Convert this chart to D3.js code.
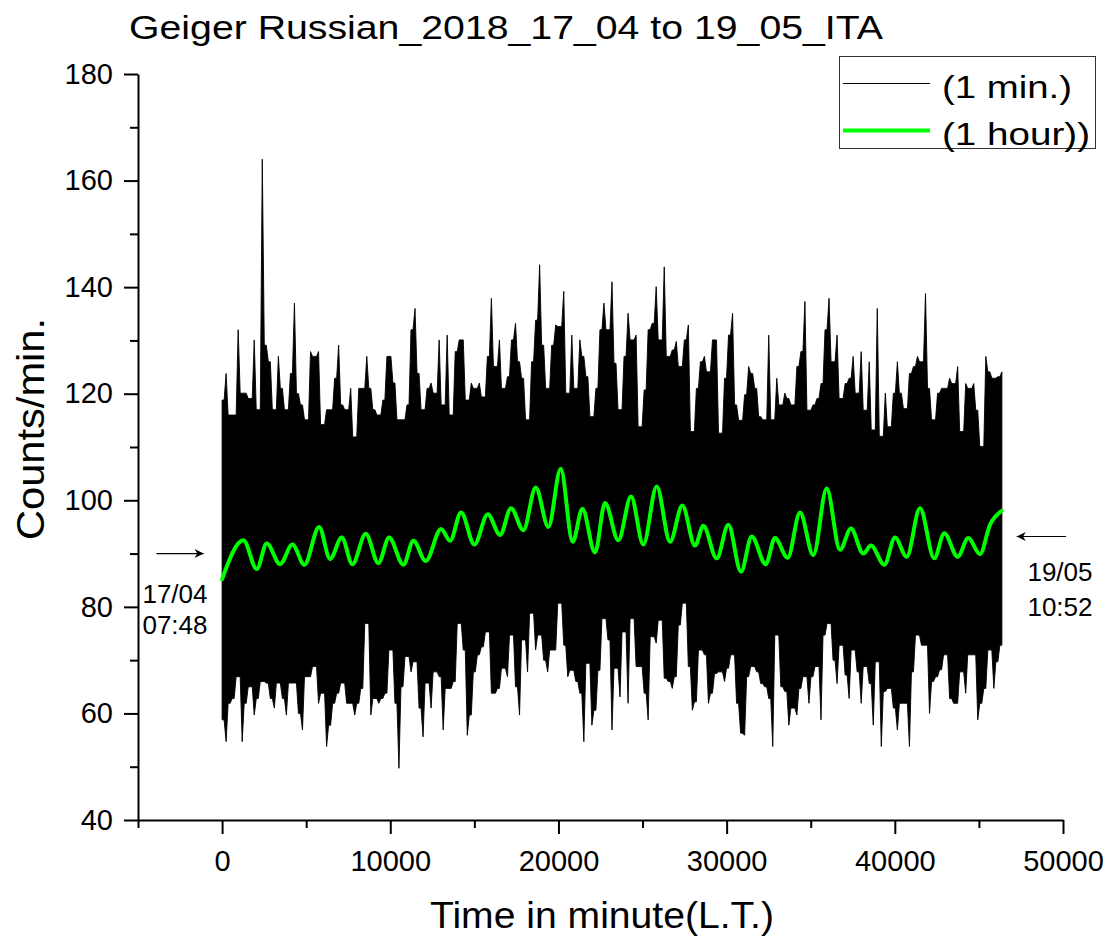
<!DOCTYPE html>
<html>
<head>
<meta charset="utf-8">
<script src="https://cdn.jsdelivr.net/npm/d3@7"></script>
<style>
  html, body { margin: 0; padding: 0; background: #fff; }
  svg { display: block; font-family: "Liberation Sans", Arial, sans-serif; }
</style>
</head>
<body>
<svg id="chart" width="1111" height="937"></svg>
<script>
// ---------- data ----------
const chartTitle = "Geiger Russian_2018_17_04 to 19_05_ITA";
const xAxisTitle = "Time in minute(L.T.)";
const yAxisTitle = "Counts/min.";
const seriesNames = ["(1 min.)", "(1 hour))"];
const xMajorTicks = [0, 10000, 20000, 30000, 40000, 50000];
const xMinorTicks = [-5000, 5000, 15000, 25000, 35000, 45000];
const yMajorTicks = [40, 60, 80, 100, 120, 140, 160, 180];
const yMinorTicks = [50, 70, 90, 110, 130, 150, 170];

// 1-minute counts, summarised per bin of binMinutes: highest and lowest reading in each bin
const binMinutes = 239;
const minuteHigh = [
  118.8, 123.8, 116.0, 116.0, 132.0, 120.1, 120.1, 119.1, 130.1, 117.0,
  164.0, 129.1, 126.0, 117.0, 127.0, 121.0, 117.0, 123.8, 137.0, 120.0,
  117.9, 115.1, 127.9, 127.0, 127.9, 114.2, 117.0, 117.0, 122.9, 129.1,
  117.9, 117.0, 121.0, 111.9, 121.0, 121.0, 127.0, 121.0, 117.0, 116.0,
  118.8, 127.0, 127.0, 122.0, 115.1, 115.1, 117.9, 132.0, 136.0, 123.8,
  117.0, 121.0, 122.0, 120.1, 130.1, 117.9, 131.0, 116.0, 127.9, 130.1,
  130.1, 118.8, 122.0, 121.0, 122.0,
  119.4, 127.0, 137.9, 125.1, 130.1, 121.0, 123.2, 130.1, 133.2, 126.0,
  122.9, 115.1, 126.0, 133.8, 144.2, 129.1, 121.0, 129.1, 132.9, 132.6,
  139.2, 120.1, 131.0, 121.0, 130.1, 127.0, 123.2, 115.7, 121.0, 132.0,
  137.0, 132.0, 141.0, 125.7, 117.0, 127.0, 135.1, 130.1, 131.0, 113.8,
  120.7, 132.0, 133.2, 140.1, 130.1, 143.8, 127.0, 128.2, 129.8, 125.1,
  130.1, 132.9, 112.9, 121.0, 126.0, 127.0, 124.1, 130.1, 130.1, 112.6,
  122.9, 131.0, 135.1, 117.9, 115.0,
  119.8, 125.1, 123.8, 121.0, 115.7, 115.1, 131.0, 115.1, 122.9, 117.9,
  120.1, 119.1, 117.9, 125.1, 127.9, 137.3, 116.9, 117.9, 119.1, 121.9,
  132.0, 137.9, 126.0, 131.0, 119.1, 121.9, 122.9, 127.0, 120.1, 127.9,
  116.9, 126.0, 113.2, 136.0, 112.0, 120.1, 113.8, 120.1, 126.0, 120.1,
  117.2, 123.8, 125.1, 127.0, 126.0, 138.8, 121.0, 115.1, 120.1, 121.0,
  121.0, 122.9, 121.9, 125.1, 112.9, 121.9, 121.0, 121.9, 116.9, 110.1,
  127.0, 124.1, 122.9, 123.2, 124.1
];
const minuteLow = [
  58.8, 54.7, 61.9, 62.8, 66.9, 54.7, 61.9, 65.0, 59.7, 62.8,
  66.0, 65.7, 62.8, 61.0, 65.7, 62.8, 59.7, 65.7, 65.7, 60.0,
  56.9, 66.9, 66.9, 68.8, 61.9, 63.8, 53.8, 57.8, 61.9, 63.8,
  65.7, 61.9, 61.9, 59.7, 61.9, 64.7, 76.9, 59.7, 62.8, 61.9,
  62.8, 63.8, 71.9, 61.9, 49.7, 65.0, 70.7, 67.8, 69.7, 61.0,
  55.6, 65.7, 61.0, 67.8, 66.9, 56.9, 64.7, 64.7, 66.0, 76.9,
  71.9, 55.9, 59.7, 67.8, 71.0,
  72.5, 75.3, 63.8, 63.8, 64.7, 68.5, 66.9, 74.7, 65.0, 59.7,
  73.8, 67.8, 78.8, 71.9, 74.7, 70.0, 67.8, 71.9, 71.9, 80.7,
  72.8, 66.9, 68.1, 66.0, 63.8, 54.7, 69.4, 57.8, 60.6, 68.1,
  77.8, 73.8, 56.9, 68.5, 63.1, 75.3, 61.9, 77.8, 68.8, 68.8,
  63.8, 58.8, 74.4, 73.2, 77.5, 66.6, 66.0, 64.7, 66.9, 76.6,
  80.7, 68.8, 60.6, 62.2, 71.9, 71.0, 61.9, 63.8, 67.5, 67.8,
  66.0, 68.5, 71.0, 61.9, 56.3,
  55.9, 66.9, 68.8, 67.8, 65.6, 65.0, 62.8, 53.8, 74.7, 65.0,
  64.1, 57.8, 61.0, 59.7, 64.7, 66.9, 61.9, 66.9, 68.8, 58.8,
  74.7, 76.9, 70.0, 65.6, 72.8, 67.2, 62.8, 71.9, 67.8, 61.9,
  68.8, 65.6, 57.8, 69.7, 53.8, 64.1, 64.7, 61.0, 56.9, 61.9,
  61.9, 53.8, 67.8, 74.7, 72.8, 72.8, 60.0, 66.0, 66.9, 68.2,
  71.0, 62.8, 61.9, 61.9, 67.8, 63.8, 71.0, 71.0, 58.8, 61.9,
  64.7, 71.9, 64.7, 69.7, 72.8
];

// 1-hour smoothed series (turning points)
const hourTime = [
  0, 1268, 2060, 2657, 3448, 4181, 4895, 5767, 6421, 7115,
  7749, 8541, 9294, 9928, 10780, 11375, 12108, 13020, 13555, 14209,
  15002, 15795, 16527, 17181, 17914, 18648, 19400, 20134, 20847, 21420,
  22175, 22770, 23560, 24315, 25047, 25843, 26634, 27365, 28120, 28613,
  29410, 30100, 30855, 31490, 32323, 32875, 33630, 34363, 35154, 35950,
  36740, 37394, 38126, 38583, 39374, 40010, 40705, 41496, 42346, 42941,
  43737, 44367, 45063, 45658, 46353
];
const hourValue = [
  85.2, 92.5, 87.1, 91.9, 88.0, 91.7, 87.9, 95.0, 89.0, 93.0,
  88.0, 93.7, 88.2, 93.0, 87.9, 92.4, 88.6, 94.6, 92.4, 97.7,
  91.7, 97.4, 93.5, 98.5, 94.4, 102.4, 95.0, 105.9, 92.2, 98.4,
  90.2, 99.5, 92.5, 100.7, 91.7, 102.6, 92.2, 99.0, 91.5, 95.2,
  89.1, 95.4, 86.6, 93.2, 88.0, 92.9, 89.2, 97.7, 89.7, 102.2,
  90.7, 94.7, 90.0, 91.5, 87.9, 93.0, 89.4, 98.5, 89.1, 93.8,
  89.4, 92.9, 89.9, 95.4, 98.0
];

// start / end annotations
const startLabel = ["17/04", "07:48"];
const endLabel = ["19/05", "10:52"];

// ---------- drawing ----------
const svg = d3.select("#chart");
const x = d3.scaleLinear().domain([-5000, 50000]).range([138, 1063]);
const y = d3.scaleLinear().domain([40, 180]).range([820, 74]);

// 1-minute band: each bin's extreme sits at the bin centre; between two bins the
// outline only reaches the less extreme of the pair, so every extreme shows as a needle.
const n = minuteHigh.length;
const band = [];
for (let i = 0; i < n; i++) {
  const t = i * binMinutes;
  band.push({ t, hi: minuteHigh[i], lo: minuteLow[i] });
  if (i < n - 1) {
    band.push({
      t: t + binMinutes / 2,
      hi: Math.min(minuteHigh[i], minuteHigh[i + 1]),
      lo: Math.max(minuteLow[i], minuteLow[i + 1])
    });
  }
}
svg.append("path")
  .datum(band)
  .attr("fill", "#000")
  .attr("stroke", "#000")
  .attr("stroke-width", 0.9)
  .attr("stroke-linejoin", "miter")
  .attr("d", d3.area().x(d => x(d.t)).y0(d => y(d.lo)).y1(d => y(d.hi)).curve(d3.curveLinear));

// 1-hour line
const hourData = hourTime.map((t, i) => ({ t, v: hourValue[i] }));
svg.append("path")
  .datum(hourData)
  .attr("fill", "none")
  .attr("stroke", "#00ff00")
  .attr("stroke-width", 4)
  .attr("stroke-linejoin", "round")
  .attr("stroke-linecap", "round")
  .attr("d", d3.line().x(d => x(d.t)).y(d => y(d.v)).curve(d3.curveMonotoneX));

// axes
const axisColor = "#000";
function styleAxis(g) {
  g.select(".domain").attr("stroke", axisColor).attr("stroke-width", 2);
  g.selectAll(".tick line").attr("stroke", axisColor).attr("stroke-width", 2);
  g.selectAll(".tick text").attr("fill", "#000").attr("font-size", "29px")
    .attr("font-family", '"Liberation Sans", Arial, sans-serif');
}

const yAxisG = svg.append("g").attr("transform", "translate(138,0)")
  .call(d3.axisLeft(y).tickValues(yMajorTicks).tickSize(14).tickPadding(11).tickSizeOuter(0));
styleAxis(yAxisG);
svg.append("g").attr("transform", "translate(138,0)")
  .call(d3.axisLeft(y).tickValues(yMinorTicks).tickSize(8).tickFormat("").tickSizeOuter(0))
  .call(g => { g.select(".domain").remove(); g.selectAll(".tick line").attr("stroke", axisColor).attr("stroke-width", 2); });

const xAxisG = svg.append("g").attr("transform", "translate(0,820)")
  .call(d3.axisBottom(x).tickValues(xMajorTicks).tickSize(14).tickPadding(16).tickFormat(d3.format("d")).tickSizeOuter(0));
styleAxis(xAxisG);
svg.append("g").attr("transform", "translate(0,820)")
  .call(d3.axisBottom(x).tickValues(xMinorTicks).tickSize(8).tickFormat("").tickSizeOuter(0))
  .call(g => { g.select(".domain").remove(); g.selectAll(".tick line").attr("stroke", axisColor).attr("stroke-width", 2); });

// titles (text in the reference is drawn wide; textLength reproduces its measured width)
svg.append("text").attr("x", 506).attr("y", 39).attr("text-anchor", "middle")
  .attr("font-size", "34px").attr("fill", "#000")
  .attr("textLength", 754).attr("lengthAdjust", "spacingAndGlyphs").text(chartTitle);
svg.append("text").attr("x", 602).attr("y", 928).attr("text-anchor", "middle")
  .attr("font-size", "37px").attr("fill", "#000")
  .attr("textLength", 344).attr("lengthAdjust", "spacingAndGlyphs").text(xAxisTitle);
svg.append("text").attr("transform", "translate(44,429) rotate(-90)").attr("text-anchor", "middle")
  .attr("font-size", "38px").attr("fill", "#000")
  .attr("textLength", 222).attr("lengthAdjust", "spacingAndGlyphs").text(yAxisTitle);

// annotations: arrows + date labels
const defs = svg.append("defs");
defs.append("marker").attr("id", "ah").attr("viewBox", "0 0 10 10").attr("refX", 10).attr("refY", 5)
  .attr("markerWidth", 18).attr("markerHeight", 9).attr("markerUnits", "userSpaceOnUse").attr("orient", "auto")
  .append("path").attr("d", "M0,0 L10,5 L0,10 L3,5 Z").attr("fill", "#000");

svg.append("line").attr("x1", x(-3900)).attr("y1", y(90)).attr("x2", x(-1100)).attr("y2", y(90))
  .attr("stroke", "#000").attr("stroke-width", 1.2).attr("marker-end", "url(#ah)");
svg.append("line").attr("x1", x(50180)).attr("y1", y(93.2)).attr("x2", x(47250)).attr("y2", y(93.2))
  .attr("stroke", "#000").attr("stroke-width", 1.2).attr("marker-end", "url(#ah)");

startLabel.forEach((s, i) => svg.append("text").attr("x", x(-2800)).attr("y", y(i === 0 ? 80.8 : 74.9))
  .attr("text-anchor", "middle").attr("font-size", "26px").attr("fill", "#000").text(s));
endLabel.forEach((s, i) => svg.append("text").attr("x", x(49820)).attr("y", y(i === 0 ? 84.85 : 78.3))
  .attr("text-anchor", "middle").attr("font-size", "26px").attr("fill", "#000").text(s));

// legend
const lg = svg.append("g");
lg.append("rect").attr("x", 839.5).attr("y", 56.5).attr("width", 256).attr("height", 92)
  .attr("fill", "#fff").attr("stroke", "#333").attr("stroke-width", 1);
const legendRows = [
  { name: seriesNames[0], color: "#000", w: 1.2, yy: 83.5, ty: 98, len: 130 },
  { name: seriesNames[1], color: "#00ff00", w: 4, yy: 130.5, ty: 145, len: 148 }
];
legendRows.forEach(r => {
  lg.append("line").attr("x1", 843).attr("x2", 930).attr("y1", r.yy).attr("y2", r.yy)
    .attr("stroke", r.color).attr("stroke-width", r.w);
  lg.append("text").attr("x", 942).attr("y", r.ty).attr("font-size", "32px").attr("fill", "#000")
    .attr("textLength", r.len).attr("lengthAdjust", "spacingAndGlyphs").text(r.name);
});
</script>
</body>
</html>
